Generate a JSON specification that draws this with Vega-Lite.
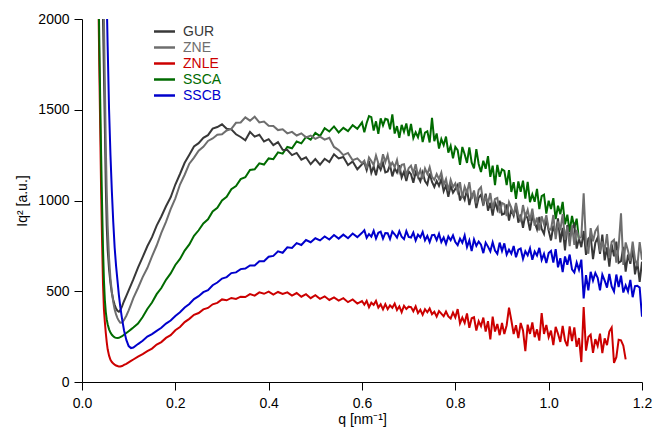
{
  "$schema": "https://vega.github.io/schema/vega-lite/v6.json",
  "width": 560,
  "height": 363,
  "autosize": {"type": "none"},
  "padding": {"left": 82, "top": 19, "right": 12, "bottom": 54},
  "background": "white",
  "config": {
    "view": {"stroke": null},
    "font": "Liberation Sans",
    "axis": {
      "labelFont": "Liberation Sans",
      "titleFont": "Liberation Sans",
      "labelFontSize": 14,
      "titleFontSize": 14,
      "titleFontWeight": "normal",
      "labelColor": "black",
      "titleColor": "black",
      "domainColor": "black",
      "tickColor": "black",
      "tickSize": 8,
      "grid": false
    }
  },
  "data": {
    "values": [
      {"q":0.033,"GUR":null,"ZNE":null,"ZNLE":2600,"SSCA":null,"SSCB":null},
      {"q":0.035,"GUR":null,"ZNE":null,"ZNLE":2150,"SSCA":2250,"SSCB":null},
      {"q":0.037,"GUR":null,"ZNE":null,"ZNLE":1750,"SSCA":1900,"SSCB":null},
      {"q":0.039,"GUR":null,"ZNE":null,"ZNLE":1400,"SSCA":1560,"SSCB":null},
      {"q":0.041,"GUR":2700,"ZNE":null,"ZNLE":1050,"SSCA":1250,"SSCB":null},
      {"q":0.043,"GUR":2350,"ZNE":2700,"ZNLE":780,"SSCA":980,"SSCB":null},
      {"q":0.045,"GUR":2000,"ZNE":2350,"ZNLE":540,"SSCA":740,"SSCB":null},
      {"q":0.047,"GUR":1700,"ZNE":2000,"ZNLE":400,"SSCA":560,"SSCB":null},
      {"q":0.049,"GUR":1400,"ZNE":1650,"ZNLE":330,"SSCA":450,"SSCB":null},
      {"q":0.051,"GUR":1080,"ZNE":1300,"ZNLE":270,"SSCA":385,"SSCB":2350},
      {"q":0.053,"GUR":860,"ZNE":1050,"ZNLE":220,"SSCA":345,"SSCB":2100},
      {"q":0.055,"GUR":730,"ZNE":860,"ZNLE":180,"SSCA":318,"SSCB":1850},
      {"q":0.058,"GUR":620,"ZNE":680,"ZNLE":145,"SSCA":290,"SSCB":1500},
      {"q":0.061,"GUR":545,"ZNE":570,"ZNLE":122,"SSCA":272,"SSCB":1250},
      {"q":0.064,"GUR":490,"ZNE":495,"ZNLE":110,"SSCA":260,"SSCB":1050},
      {"q":0.067,"GUR":452,"ZNE":440,"ZNLE":102,"SSCA":252,"SSCB":880},
      {"q":0.070,"GUR":425,"ZNE":400,"ZNLE":96,"SSCA":246,"SSCB":740},
      {"q":0.073,"GUR":405,"ZNE":372,"ZNLE":91,"SSCA":243,"SSCB":640},
      {"q":0.076,"GUR":392,"ZNE":352,"ZNLE":88,"SSCA":242,"SSCB":560},
      {"q":0.079,"GUR":387,"ZNE":337,"ZNLE":85,"SSCA":244,"SSCB":480},
      {"q":0.082,"GUR":395,"ZNE":327,"ZNLE":85,"SSCA":247,"SSCB":415},
      {"q":0.086,"GUR":418,"ZNE":328,"ZNLE":88,"SSCA":252,"SSCB":345},
      {"q":0.090,"GUR":445,"ZNE":342,"ZNLE":94,"SSCA":260,"SSCB":285},
      {"q":0.095,"GUR":475,"ZNE":365,"ZNLE":100,"SSCA":270,"SSCB":232},
      {"q":0.100,"GUR":505,"ZNE":395,"ZNLE":108,"SSCA":280,"SSCB":198},
      {"q":0.105,"GUR":535,"ZNE":428,"ZNLE":116,"SSCA":290,"SSCB":187},
      {"q":0.11,"GUR":565,"ZNE":462,"ZNLE":124,"SSCA":300,"SSCB":190},
      {"q":0.12,"GUR":630,"ZNE":518,"ZNLE":140,"SSCA":322,"SSCB":209},
      {"q":0.13,"GUR":688,"ZNE":578,"ZNLE":154,"SSCA":358,"SSCB":227},
      {"q":0.14,"GUR":748,"ZNE":628,"ZNLE":170,"SSCA":402,"SSCB":250},
      {"q":0.15,"GUR":798,"ZNE":692,"ZNLE":184,"SSCA":438,"SSCB":264},
      {"q":0.16,"GUR":862,"ZNE":752,"ZNLE":206,"SSCA":484,"SSCB":282},
      {"q":0.17,"GUR":912,"ZNE":822,"ZNLE":220,"SSCA":518,"SSCB":299},
      {"q":0.18,"GUR":968,"ZNE":882,"ZNLE":243,"SSCA":563,"SSCB":322},
      {"q":0.19,"GUR":1018,"ZNE":952,"ZNLE":258,"SSCA":598,"SSCB":339},
      {"q":0.20,"GUR":1088,"ZNE":1012,"ZNLE":285,"SSCA":645,"SSCB":364},
      {"q":0.21,"GUR":1146,"ZNE":1088,"ZNLE":303,"SSCA":678,"SSCB":384},
      {"q":0.22,"GUR":1208,"ZNE":1142,"ZNLE":330,"SSCA":724,"SSCB":410},
      {"q":0.23,"GUR":1252,"ZNE":1203,"ZNLE":348,"SSCA":758,"SSCB":430},
      {"q":0.24,"GUR":1298,"ZNE":1236,"ZNLE":370,"SSCA":805,"SSCB":457},
      {"q":0.25,"GUR":1316,"ZNE":1274,"ZNLE":380,"SSCA":836,"SSCB":473},
      {"q":0.26,"GUR":1345,"ZNE":1296,"ZNLE":400,"SSCA":874,"SSCB":495},
      {"q":0.27,"GUR":1360,"ZNE":1328,"ZNLE":408,"SSCA":896,"SSCB":506},
      {"q":0.28,"GUR":1396,"ZNE":1342,"ZNLE":428,"SSCA":940,"SSCB":533},
      {"q":0.29,"GUR":1405,"ZNE":1362,"ZNLE":436,"SSCA":960,"SSCB":548},
      {"q":0.30,"GUR":1420,"ZNE":1365,"ZNLE":455,"SSCA":1000,"SSCB":570},
      {"q":0.31,"GUR":1395,"ZNE":1386,"ZNLE":450,"SSCA":1020,"SSCB":578},
      {"q":0.32,"GUR":1392,"ZNE":1395,"ZNLE":463,"SSCA":1062,"SSCB":600},
      {"q":0.33,"GUR":1365,"ZNE":1428,"ZNLE":458,"SSCA":1080,"SSCB":604},
      {"q":0.34,"GUR":1350,"ZNE":1430,"ZNLE":470,"SSCA":1118,"SSCB":622},
      {"q":0.35,"GUR":1332,"ZNE":1458,"ZNLE":468,"SSCA":1128,"SSCB":625},
      {"q":0.36,"GUR":1378,"ZNE":1440,"ZNLE":484,"SSCA":1168,"SSCB":642},
      {"q":0.37,"GUR":1352,"ZNE":1462,"ZNLE":476,"SSCA":1172,"SSCB":642},
      {"q":0.38,"GUR":1362,"ZNE":1430,"ZNLE":494,"SSCA":1205,"SSCB":665},
      {"q":0.39,"GUR":1325,"ZNE":1435,"ZNLE":486,"SSCA":1198,"SSCB":665},
      {"q":0.40,"GUR":1338,"ZNE":1412,"ZNLE":498,"SSCA":1232,"SSCB":690},
      {"q":0.41,"GUR":1305,"ZNE":1410,"ZNLE":482,"SSCA":1228,"SSCB":695},
      {"q":0.42,"GUR":1322,"ZNE":1388,"ZNLE":496,"SSCA":1265,"SSCB":720},
      {"q":0.43,"GUR":1280,"ZNE":1392,"ZNLE":485,"SSCA":1258,"SSCB":712},
      {"q":0.44,"GUR":1278,"ZNE":1370,"ZNLE":494,"SSCA":1295,"SSCB":742},
      {"q":0.45,"GUR":1250,"ZNE":1378,"ZNLE":476,"SSCA":1288,"SSCB":738},
      {"q":0.46,"GUR":1262,"ZNE":1358,"ZNLE":490,"SSCA":1325,"SSCB":765},
      {"q":0.47,"GUR":1225,"ZNE":1370,"ZNLE":470,"SSCA":1315,"SSCB":755},
      {"q":0.48,"GUR":1238,"ZNE":1348,"ZNLE":484,"SSCA":1350,"SSCB":782},
      {"q":0.49,"GUR":1200,"ZNE":1358,"ZNLE":462,"SSCA":1335,"SSCB":770},
      {"q":0.50,"GUR":1228,"ZNE":1340,"ZNLE":478,"SSCA":1372,"SSCB":792},
      {"q":0.51,"GUR":1198,"ZNE":1352,"ZNLE":458,"SSCA":1355,"SSCB":780},
      {"q":0.52,"GUR":1230,"ZNE":1335,"ZNLE":472,"SSCA":1398,"SSCB":802},
      {"q":0.53,"GUR":1212,"ZNE":1345,"ZNLE":452,"SSCA":1380,"SSCB":785},
      {"q":0.54,"GUR":1255,"ZNE":1295,"ZNLE":466,"SSCA":1408,"SSCB":810},
      {"q":0.55,"GUR":1232,"ZNE":1278,"ZNLE":448,"SSCA":1375,"SSCB":790},
      {"q":0.56,"GUR":1240,"ZNE":1250,"ZNLE":462,"SSCA":1400,"SSCB":812},
      {"q":0.57,"GUR":1195,"ZNE":1262,"ZNLE":440,"SSCA":1382,"SSCB":792},
      {"q":0.58,"GUR":1215,"ZNE":1222,"ZNLE":455,"SSCA":1415,"SSCB":818},
      {"q":0.59,"GUR":1172,"ZNE":1232,"ZNLE":432,"SSCA":1395,"SSCB":798},
      {"q":0.60,"GUR":1200,"ZNE":1205,"ZNLE":446,"SSCA":1430,"SSCB":822},
      {"q":0.605,"GUR":1208,"ZNE":1219,"ZNLE":426,"SSCA":1376,"SSCB":836},
      {"q":0.610,"GUR":1167,"ZNE":1176,"ZNLE":447,"SSCA":1427,"SSCB":794},
      {"q":0.615,"GUR":1218,"ZNE":1237,"ZNLE":412,"SSCA":1465,"SSCB":815},
      {"q":0.620,"GUR":1153,"ZNE":1218,"ZNLE":437,"SSCA":1459,"SSCB":801},
      {"q":0.625,"GUR":1188,"ZNE":1195,"ZNLE":425,"SSCA":1385,"SSCB":833},
      {"q":0.630,"GUR":1139,"ZNE":1248,"ZNLE":447,"SSCA":1436,"SSCB":791},
      {"q":0.635,"GUR":1198,"ZNE":1205,"ZNLE":410,"SSCA":1367,"SSCB":822},
      {"q":0.640,"GUR":1169,"ZNE":1190,"ZNLE":428,"SSCA":1453,"SSCB":828},
      {"q":0.645,"GUR":1208,"ZNE":1255,"ZNLE":400,"SSCA":1414,"SSCB":790},
      {"q":0.650,"GUR":1155,"ZNE":1212,"ZNLE":429,"SSCA":1450,"SSCB":821},
      {"q":0.655,"GUR":1160,"ZNE":1251,"ZNLE":401,"SSCA":1446,"SSCB":820},
      {"q":0.660,"GUR":1196,"ZNE":1186,"ZNLE":422,"SSCA":1392,"SSCB":788},
      {"q":0.665,"GUR":1133,"ZNE":1209,"ZNLE":409,"SSCA":1475,"SSCB":829},
      {"q":0.670,"GUR":1177,"ZNE":1184,"ZNLE":432,"SSCA":1369,"SSCB":814},
      {"q":0.675,"GUR":1154,"ZNE":1223,"ZNLE":397,"SSCA":1410,"SSCB":796},
      {"q":0.680,"GUR":1194,"ZNE":1158,"ZNLE":417,"SSCA":1346,"SSCB":831},
      {"q":0.685,"GUR":1127,"ZNE":1197,"ZNLE":385,"SSCA":1417,"SSCB":800},
      {"q":0.690,"GUR":1159,"ZNE":1200,"ZNLE":420,"SSCA":1378,"SSCB":787},
      {"q":0.695,"GUR":1108,"ZNE":1139,"ZNLE":402,"SSCA":1424,"SSCB":831},
      {"q":0.700,"GUR":1160,"ZNE":1178,"ZNLE":415,"SSCA":1355,"SSCB":799},
      {"q":0.705,"GUR":1145,"ZNE":1192,"ZNLE":413,"SSCA":1422,"SSCB":796},
      {"q":0.710,"GUR":1098,"ZNE":1150,"ZNLE":390,"SSCA":1344,"SSCB":823},
      {"q":0.715,"GUR":1155,"ZNE":1200,"ZNLE":417,"SSCA":1376,"SSCB":780},
      {"q":0.720,"GUR":1132,"ZNE":1134,"ZNLE":380,"SSCA":1348,"SSCB":812},
      {"q":0.725,"GUR":1105,"ZNE":1168,"ZNLE":398,"SSCA":1400,"SSCB":797},
      {"q":0.730,"GUR":1154,"ZNE":1118,"ZNLE":370,"SSCA":1322,"SSCB":827},
      {"q":0.735,"GUR":1107,"ZNE":1176,"ZNLE":401,"SSCA":1374,"SSCB":781},
      {"q":0.740,"GUR":1088,"ZNE":1146,"ZNLE":384,"SSCA":1381,"SSCB":805},
      {"q":0.745,"GUR":1149,"ZNE":1184,"ZNLE":405,"SSCA":1320,"SSCB":771},
      {"q":0.750,"GUR":1102,"ZNE":1130,"ZNLE":374,"SSCA":1455,"SSCB":809},
      {"q":0.755,"GUR":1075,"ZNE":1114,"ZNLE":387,"SSCA":1327,"SSCB":811},
      {"q":0.760,"GUR":1108,"ZNE":1146,"ZNLE":360,"SSCA":1369,"SSCB":782},
      {"q":0.765,"GUR":1081,"ZNE":1118,"ZNLE":391,"SSCA":1286,"SSCB":817},
      {"q":0.770,"GUR":1118,"ZNE":1154,"ZNLE":377,"SSCA":1338,"SSCB":771},
      {"q":0.775,"GUR":1051,"ZNE":1086,"ZNLE":362,"SSCA":1305,"SSCB":796},
      {"q":0.780,"GUR":1084,"ZNE":1118,"ZNLE":388,"SSCA":1352,"SSCB":761},
      {"q":0.785,"GUR":1021,"ZNE":1054,"ZNLE":361,"SSCA":1264,"SSCB":802},
      {"q":0.790,"GUR":1082,"ZNE":1114,"ZNLE":350,"SSCA":1301,"SSCB":781},
      {"q":0.795,"GUR":1043,"ZNE":1074,"ZNLE":383,"SSCA":1233,"SSCB":808},
      {"q":0.800,"GUR":1064,"ZNE":1094,"ZNLE":356,"SSCA":1295,"SSCB":771},
      {"q":0.805,"GUR":1086,"ZNE":1049,"ZNLE":402,"SSCA":1278,"SSCB":754},
      {"q":0.810,"GUR":1000,"ZNE":1101,"ZNLE":323,"SSCA":1196,"SSCB":790},
      {"q":0.815,"GUR":1035,"ZNE":1014,"ZNLE":355,"SSCA":1295,"SSCB":767},
      {"q":0.820,"GUR":1004,"ZNE":1076,"ZNLE":326,"SSCA":1255,"SSCB":807},
      {"q":0.825,"GUR":1061,"ZNE":1044,"ZNLE":378,"SSCA":1207,"SSCB":744},
      {"q":0.830,"GUR":975,"ZNE":1101,"ZNLE":299,"SSCA":1293,"SSCB":780},
      {"q":0.835,"GUR":1032,"ZNE":1009,"ZNLE":351,"SSCA":1210,"SSCB":721},
      {"q":0.840,"GUR":1040,"ZNE":1055,"ZNLE":357,"SSCA":1177,"SSCB":785},
      {"q":0.845,"GUR":958,"ZNE":984,"ZNLE":284,"SSCA":1283,"SSCB":750},
      {"q":0.850,"GUR":1016,"ZNE":1058,"ZNLE":335,"SSCA":1201,"SSCB":774},
      {"q":0.855,"GUR":1032,"ZNE":1074,"ZNLE":308,"SSCA":1157,"SSCB":756},
      {"q":0.860,"GUR":972,"ZNE":986,"ZNLE":355,"SSCA":1219,"SSCB":710},
      {"q":0.865,"GUR":1038,"ZNE":1019,"ZNLE":278,"SSCA":1175,"SSCB":768},
      {"q":0.870,"GUR":944,"ZNE":986,"ZNLE":335,"SSCA":1244,"SSCB":746},
      {"q":0.875,"GUR":988,"ZNE":1041,"ZNLE":235,"SSCA":1130,"SSCB":720},
      {"q":0.880,"GUR":917,"ZNE":953,"ZNLE":360,"SSCA":1192,"SSCB":770},
      {"q":0.885,"GUR":994,"ZNE":1008,"ZNLE":278,"SSCA":1085,"SSCB":724},
      {"q":0.890,"GUR":950,"ZNE":1014,"ZNLE":320,"SSCA":1196,"SSCB":706},
      {"q":0.895,"GUR":999,"ZNE":930,"ZNLE":258,"SSCA":1131,"SSCB":768},
      {"q":0.900,"GUR":922,"ZNE":986,"ZNLE":325,"SSCA":1172,"SSCB":722},
      {"q":0.905,"GUR":927,"ZNE":980,"ZNLE":264,"SSCA":1163,"SSCB":764},
      {"q":0.910,"GUR":978,"ZNE":914,"ZNLE":313,"SSCA":1085,"SSCB":702},
      {"q":0.915,"GUR":889,"ZNE":991,"ZNLE":410,"SSCA":1167,"SSCB":729},
      {"q":0.920,"GUR":950,"ZNE":959,"ZNLE":340,"SSCA":1047,"SSCB":707},
      {"q":0.925,"GUR":916,"ZNE":919,"ZNLE":264,"SSCA":1101,"SSCB":749},
      {"q":0.930,"GUR":972,"ZNE":986,"ZNLE":313,"SSCA":1009,"SSCB":687},
      {"q":0.935,"GUR":878,"ZNE":919,"ZNLE":242,"SSCA":1105,"SSCB":729},
      {"q":0.940,"GUR":923,"ZNE":892,"ZNLE":325,"SSCA":1048,"SSCB":736},
      {"q":0.945,"GUR":850,"ZNE":975,"ZNLE":284,"SSCA":1109,"SSCB":678},
      {"q":0.950,"GUR":923,"ZNE":909,"ZNLE":170,"SSCA":1010,"SSCB":720},
      {"q":0.955,"GUR":901,"ZNE":948,"ZNLE":316,"SSCA":1102,"SSCB":698},
      {"q":0.960,"GUR":835,"ZNE":888,"ZNLE":265,"SSCA":991,"SSCB":736},
      {"q":0.965,"GUR":913,"ZNE":955,"ZNLE":328,"SSCA":1034,"SSCB":673},
      {"q":0.970,"GUR":881,"ZNE":861,"ZNLE":247,"SSCA":993,"SSCB":719},
      {"q":0.975,"GUR":842,"ZNE":906,"ZNLE":290,"SSCA":1064,"SSCB":697},
      {"q":0.980,"GUR":909,"ZNE":835,"ZNLE":228,"SSCA":953,"SSCB":739},
      {"q":0.985,"GUR":843,"ZNE":913,"ZNLE":380,"SSCA":1024,"SSCB":673},
      {"q":0.990,"GUR":816,"ZNE":869,"ZNLE":265,"SSCA":1032,"SSCB":706},
      {"q":0.995,"GUR":900,"ZNE":919,"ZNLE":314,"SSCA":928,"SSCB":656},
      {"q":1.000,"GUR":834,"ZNE":842,"ZNLE":247,"SSCA":999,"SSCB":710},
      {"q":1.005,"GUR":780,"ZNE":839,"ZNLE":283,"SSCA":953,"SSCB":722},
      {"q":1.010,"GUR":861,"ZNE":920,"ZNLE":203,"SSCA":1013,"SSCB":658},
      {"q":1.015,"GUR":813,"ZNE":787,"ZNLE":304,"SSCA":897,"SSCB":732},
      {"q":1.020,"GUR":902,"ZNE":884,"ZNLE":266,"SSCA":971,"SSCB":632},
      {"q":1.025,"GUR":769,"ZNE":836,"ZNLE":221,"SSCA":925,"SSCB":682},
      {"q":1.030,"GUR":849,"ZNE":925,"ZNLE":309,"SSCA":992,"SSCB":606},
      {"q":1.035,"GUR":725,"ZNE":784,"ZNLE":229,"SSCA":869,"SSCB":692},
      {"q":1.040,"GUR":865,"ZNE":856,"ZNLE":197,"SSCA":922,"SSCB":646},
      {"q":1.045,"GUR":791,"ZNE":748,"ZNLE":306,"SSCA":827,"SSCB":702},
      {"q":1.050,"GUR":846,"ZNE":863,"ZNLE":226,"SSCA":915,"SSCB":620},
      {"q":1.055,"GUR":867,"ZNE":756,"ZNLE":301,"SSCA":850,"SSCB":603},
      {"q":1.060,"GUR":735,"ZNE":838,"ZNLE":194,"SSCA":900,"SSCB":658},
      {"q":1.065,"GUR":790,"ZNE":791,"ZNLE":242,"SSCA":780,"SSCB":618},
      {"q":1.070,"GUR":743,"ZNE":800,"ZNLE":110,"SSCA":null,"SSCB":674},
      {"q":1.075,"GUR":832,"ZNE":1040,"ZNLE":413,"SSCA":null,"SSCB":460},
      {"q":1.080,"GUR":700,"ZNE":760,"ZNLE":173,"SSCA":null,"SSCB":589},
      {"q":1.085,"GUR":789,"ZNE":707,"ZNLE":248,"SSCA":null,"SSCB":505},
      {"q":1.090,"GUR":802,"ZNE":848,"ZNLE":261,"SSCA":null,"SSCB":607},
      {"q":1.095,"GUR":677,"ZNE":775,"ZNLE":161,"SSCA":null,"SSCB":559},
      {"q":1.100,"GUR":767,"ZNE":831,"ZNLE":236,"SSCA":null,"SSCB":601},
      {"q":1.105,"GUR":796,"ZNE":852,"ZNLE":199,"SSCA":null,"SSCB":574},
      {"q":1.110,"GUR":706,"ZNE":719,"ZNLE":266,"SSCA":null,"SSCB":505},
      {"q":1.115,"GUR":812,"ZNE":774,"ZNLE":159,"SSCA":null,"SSCB":592},
      {"q":1.120,"GUR":670,"ZNE":726,"ZNLE":240,"SSCA":null,"SSCB":559},
      {"q":1.125,"GUR":742,"ZNE":815,"ZNLE":203,"SSCA":null,"SSCB":520},
      {"q":1.130,"GUR":635,"ZNE":682,"ZNLE":278,"SSCA":null,"SSCB":595},
      {"q":1.135,"GUR":758,"ZNE":771,"ZNLE":300,"SSCA":null,"SSCB":526},
      {"q":1.140,"GUR":693,"ZNE":783,"ZNLE":105,"SSCA":null,"SSCB":499},
      {"q":1.145,"GUR":773,"ZNE":658,"ZNLE":137,"SSCA":null,"SSCB":592},
      {"q":1.150,"GUR":657,"ZNE":747,"ZNLE":233,"SSCA":null,"SSCB":523},
      {"q":1.155,"GUR":666,"ZNE":930,"ZNLE":230,"SSCA":null,"SSCB":586},
      {"q":1.160,"GUR":744,"ZNE":645,"ZNLE":200,"SSCA":null,"SSCB":493},
      {"q":1.165,"GUR":608,"ZNE":769,"ZNLE":125,"SSCA":null,"SSCB":532},
      {"q":1.170,"GUR":702,"ZNE":723,"ZNLE":null,"SSCA":null,"SSCB":499},
      {"q":1.175,"GUR":651,"ZNE":667,"ZNLE":null,"SSCA":null,"SSCB":562},
      {"q":1.180,"GUR":737,"ZNE":774,"ZNLE":null,"SSCA":null,"SSCB":467},
      {"q":1.185,"GUR":593,"ZNE":676,"ZNLE":null,"SSCA":null,"SSCB":528},
      {"q":1.190,"GUR":662,"ZNE":638,"ZNLE":null,"SSCA":null,"SSCB":530},
      {"q":1.195,"GUR":551,"ZNE":771,"ZNLE":null,"SSCA":null,"SSCB":520},
      {"q":1.200,"GUR":663,"ZNE":673,"ZNLE":null,"SSCA":null,"SSCB":360}
    ]
  },
  "transform": [
    {"fold": ["GUR", "ZNE", "ZNLE", "SSCA", "SSCB"], "as": ["s", "v"]},
    {"filter": "datum.v != null"}
  ],
  "mark": {"type": "line", "strokeWidth": 2, "clip": true},
  "encoding": {
    "x": {
      "field": "q",
      "type": "quantitative",
      "scale": {"domain": [0, 1.2], "nice": false, "zero": false},
      "axis": {
        "title": "q [nm⁻¹]",
        "values": [0, 0.2, 0.4, 0.6, 0.8, 1.0, 1.2],
        "format": ".1f",
        "labelFlush": false,
        "labelPadding": 6,
        "titlePadding": 2
      }
    },
    "y": {
      "field": "v",
      "type": "quantitative",
      "scale": {"domain": [0, 2000], "nice": false},
      "axis": {
        "title": "Iq² [a.u.]",
        "values": [0, 500, 1000, 1500, 2000],
        "format": "d",
        "labelPadding": 5,
        "titlePadding": 8
      }
    },
    "color": {
      "field": "s",
      "type": "nominal",
      "sort": ["GUR", "ZNE", "ZNLE", "SSCA", "SSCB"],
      "scale": {
        "domain": ["GUR", "ZNE", "ZNLE", "SSCA", "SSCB"],
        "range": ["#383838", "#6e6e6e", "#cc0000", "#006b00", "#0000cc"]
      },
      "legend": {
        "title": null,
        "orient": "none",
        "legendX": 74,
        "legendY": 4,
        "symbolType": "M-1.5,0H1.5",
        "symbolSize": 196,
        "symbolStrokeWidth": 2.5,
        "symbolFillColor": "transparent",
        "labelFont": "Liberation Sans",
        "labelFontSize": 13,
        "labelOffset": 10,
        "rowPadding": 0.001,
        "encode": {
          "labels": {"update": {"fill": {"scale": "color", "field": "value"}, "fontSize": {"value": 14}}}
        }
      }
    }
  }
}
